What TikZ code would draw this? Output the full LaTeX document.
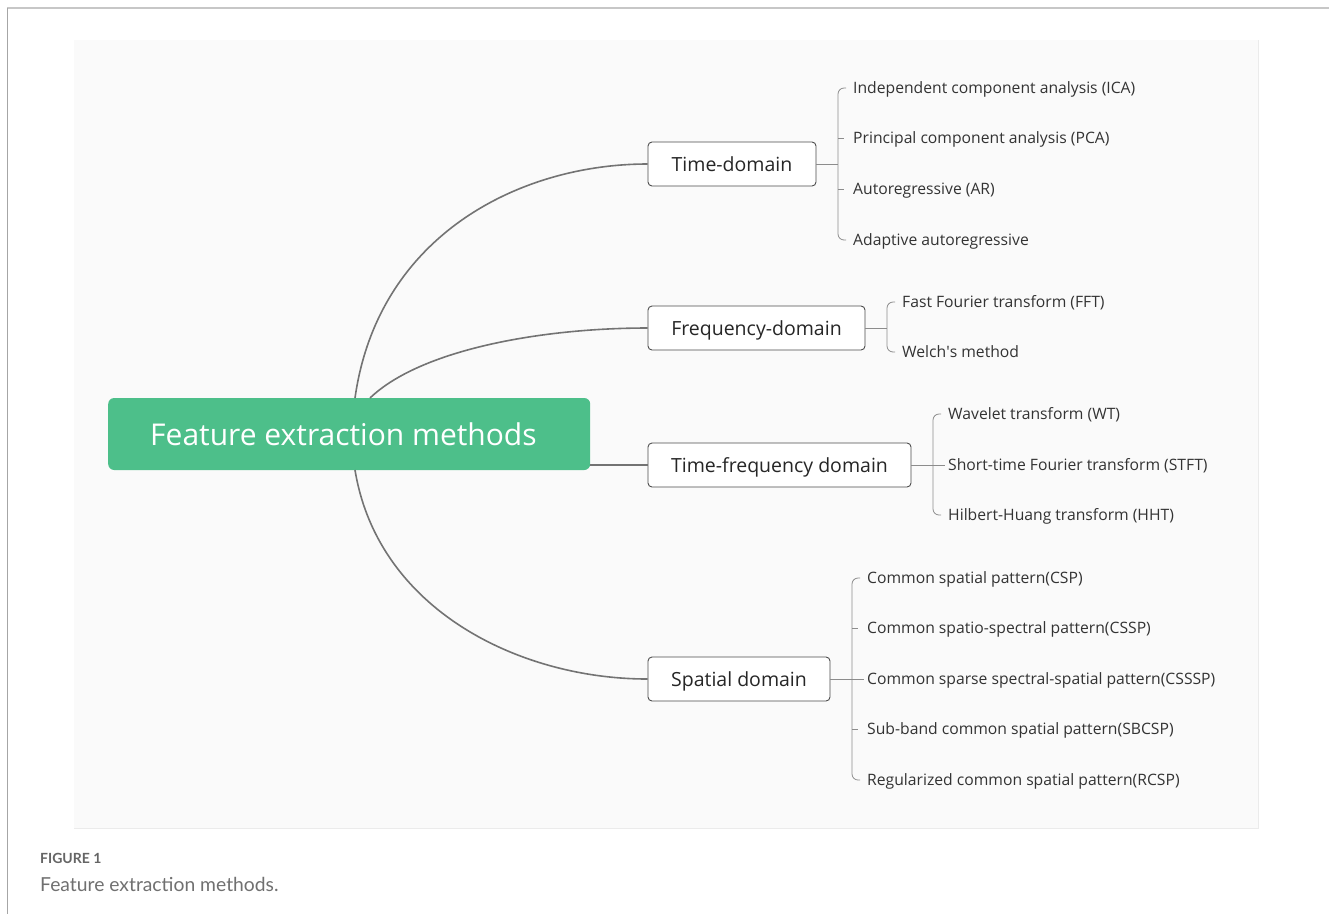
\documentclass[tikz,border=0pt]{standalone}
\usepackage{fontspec}
\setmainfont{Open Sans}
\newfontfamily\capfont{Lato}
\begin{document}
\begin{tikzpicture}[x=1pt,y=-1pt,
  every node/.style={font=\fontsize{15.7}{18}\selectfont, text=black!80},
  rootbox/.style={fill=rootgreen, rounded corners=6pt, minimum height=72pt,
    text height=30pt, text depth=8pt,
    text=white, font=\fontsize{30}{34}\selectfont, inner sep=0pt},
  catbox/.style={draw=black!70, line width=0.9pt, fill=white, rounded corners=4pt,
    minimum height=44pt, inner sep=0pt, text height=18pt, text depth=4pt,
    text=black!85, font=\fontsize{19.5}{23}\selectfont},
  leaf/.style={anchor=west, inner sep=0pt, text height=15pt, text depth=4pt},
  branch/.style={draw=black!55, line width=1.6pt},
  brace/.style={draw=black!45, line width=0.8pt, rounded corners=6pt},
  tick/.style={draw=black!45, line width=0.8pt}
]
\definecolor{rootgreen}{HTML}{4DBF8A}
\definecolor{panel}{HTML}{FAFAFA}
\definecolor{panelrule}{HTML}{EBEBEB}
\definecolor{captext}{HTML}{707070}

\useasboundingbox (0,0) rectangle (1329,914);
\fill[white] (0,0) rectangle (1329,914);

% frame lines and panel
\draw[draw=black!22, line width=2pt] (7,8) -- (1329,8);
\draw[draw=black!35, line width=1pt] (7,8) -- (7,914);
\fill[panel] (74,40) rectangle (1258,828);
\draw[panelrule, line width=0.8pt] (74,828) -- (1258,828) -- (1258,40);

% root and categories
\node[rootbox, anchor=west] (root) at (108,434)
  {\hspace*{42pt}\makebox[440pt][l]{Feature extraction methods}};
\node[catbox, minimum width=168pt] (td) at (732,164) {Time-domain};
\node[catbox, minimum width=217pt] (fd) at (756.5,328) {Frequency-domain};
\node[catbox, minimum width=263pt] (tf) at (779.5,465) {Time-frequency domain};
\node[catbox, minimum width=182pt] (sd) at (739,679) {Spatial domain};

% branches from the root
\coordinate (rt1) at (355,398);
\coordinate (rt2) at (370,398);
\coordinate (rb1) at (355,470);
\draw[branch] (rt1) .. controls (378,235) and (520,164) .. (td.west);
\draw[branch] (rt2) .. controls (420,350) and (540,328) .. (fd.west);
\draw[branch] (root.east |- tf.west) -- (tf.west);
\draw[branch] (rb1) .. controls (378,610) and (520,679) .. (sd.west);

% time-domain leaves
\node[leaf] (ica) at (853,88) {Independent component analysis (ICA)};
\node[leaf] (pca) at (853,138) {Principal component analysis (PCA)};
\node[leaf] (ar)  at (853,189) {Autoregressive (AR)};
\node[leaf] (aar) at (853,240) {Adaptive autoregressive};
\coordinate (tdj) at (838,164);
\draw[tick] (td.east) -- (tdj);
\draw[brace] ([xshift=-7pt]ica.west) -| (tdj) |- ([xshift=-7pt]aar.west);
\draw[tick] (tdj |- pca.west) -- ([xshift=-9pt]pca.west);
\draw[tick] (tdj |- ar.west) -- ([xshift=-9pt]ar.west);

% frequency-domain leaves
\node[leaf] (fft) at (902,302) {Fast Fourier transform (FFT)};
\node[leaf] (wel) at (902,352) {Welch\textquotesingle s method};
\coordinate (fdj) at (887,328);
\draw[tick] (fd.east) -- (fdj);
\draw[brace] ([xshift=-7pt]fft.west) -| (fdj) |- ([xshift=-7pt]wel.west);

% time-frequency leaves
\node[leaf] (wt)   at (948,414) {Wavelet transform (WT)};
\node[leaf] (stft) at (948,465) {Short-time Fourier transform (STFT)};
\node[leaf] (hht)  at (948,515) {Hilbert-Huang transform (HHT)};
\coordinate (tfj) at (933,465);
\draw[tick] (tf.east) -- ([xshift=-3pt]stft.west);
\draw[brace] ([xshift=-7pt]wt.west) -| (tfj) |- ([xshift=-7pt]hht.west);

% spatial-domain leaves
\node[leaf] (csp)   at (867,578) {Common spatial pattern(CSP)};
\node[leaf] (cssp)  at (867,628) {Common spatio-spectral pattern(CSSP)};
\node[leaf] (csssp) at (867,679) {Common sparse spectral-spatial pattern(CSSSP)};
\node[leaf] (sbcsp) at (867,729) {Sub-band common spatial pattern(SBCSP)};
\node[leaf] (rcsp)  at (867,780) {Regularized common spatial pattern(RCSP)};
\coordinate (sdj) at (852,679);
\draw[tick] (sd.east) -- ([xshift=-3pt]csssp.west);
\draw[brace] ([xshift=-7pt]csp.west) -| (sdj) |- ([xshift=-7pt]rcsp.west);
\draw[tick] (sdj |- cssp.west) -- ([xshift=-9pt]cssp.west);
\draw[tick] (sdj |- sbcsp.west) -- ([xshift=-9pt]sbcsp.west);

% caption
\node[anchor=west, inner sep=0pt, text=captext!90!black, font=\capfont\bfseries\fontsize{14}{16}\selectfont] (capnum) at (40,858) {FIGURE 1};
\node[anchor=west, inner sep=0pt, text=captext, font=\capfont\fontsize{19.3}{22}\selectfont] (captxt) at (40,884) {Feature extraction methods.};
\end{tikzpicture}
\end{document}
